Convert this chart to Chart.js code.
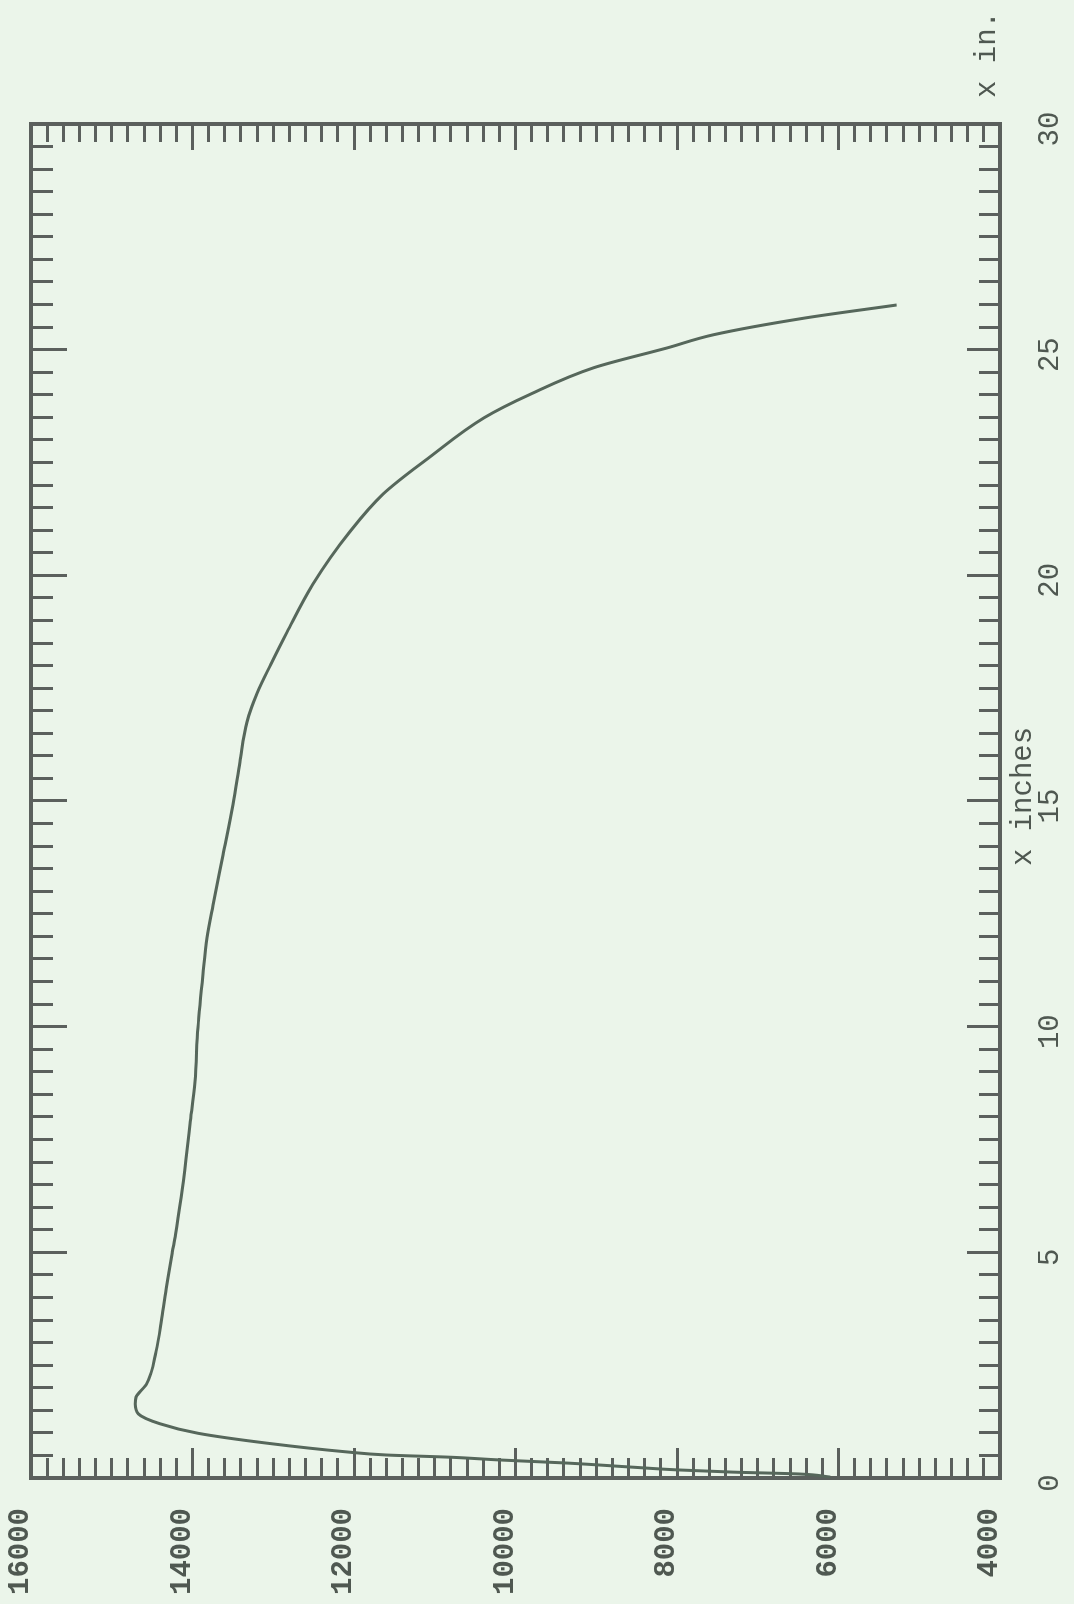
<!DOCTYPE html>
<html>
<head>
<meta charset="utf-8">
<title>x inches</title>
<script src="https://cdn.jsdelivr.net/npm/chart.js@4"></script>
<style>
  html, body { margin: 0; padding: 0; overflow: hidden; background: #ebf5ea; }
  body { width: 1074px; height: 1604px; position: relative; }
  /* the plot was drawn on its side: build it upright, then turn it a quarter turn */
  #wrap {
    position: absolute; left: 0; top: 0;
    width: 1604px; height: 1074px;
    transform-origin: 0 0;
    transform: translate(0, 1604px) rotate(-90deg);
  }
</style>
</head>
<body>
<div id="wrap"><canvas id="chart" width="1604" height="1074"></canvas></div>
<script>
// distance along the piece (inches)
const inches = [0.02, 0.09, 0.13, 0.18, 0.24, 0.33, 0.40, 0.46, 0.51, 0.58, 0.77, 0.99,
  1.20, 1.42, 1.64, 1.79, 2.08, 2.81, 3.54, 4.27, 5.00, 5.39, 6.23, 7.07, 7.84, 8.78,
  9.98, 11.17, 11.97, 12.69, 13.80, 14.92, 15.87, 16.75, 17.39, 18.03, 18.74,
  19.80, 20.97, 21.80, 22.61, 23.49, 24.01, 24.60, 25.04, 25.33, 25.70, 25.99];

// plotted reading at each distance
const values = [6100, 6500, 7300, 8000, 8550, 9350, 10200, 10800, 11600, 12100, 13070, 13930,
  14400, 14670, 14710, 14700, 14570, 14450, 14380, 14320, 14250, 14210, 14140, 14080, 14030, 13970,
  13932, 13870, 13820, 13746, 13622, 13498, 13412, 13325, 13200, 13030, 12830,
  12510, 12050, 11640, 11070, 10390, 9820, 9030, 8120, 7550, 6420, 5280];

// labelled ticks
const inchLabels = [0, 5, 10, 15, 20, 25, 30];
const valueLabels = [4000, 6000, 8000, 10000, 12000, 14000, 16000];

const inkColor = '#5b605d';
const textColor = '#4f5851';

// tick marks point inward on every side: draw them as dashed grid lines
// that only show a short piece at each end of the plot box
function inchTickDash(ctx) {
  if (!ctx.tick) return [];
  const area = ctx.chart.chartArea;
  const major = inchLabels.includes(ctx.tick.value);
  const nearEnd = major ? 36 : 22;
  const farEnd = major ? 31 : 19;
  const len = area.bottom - area.top - 2;
  return [nearEnd, len - nearEnd - farEnd, farEnd, 3000];
}

function valueTickDash(ctx) {
  if (!ctx.tick) return [];
  const area = ctx.chart.chartArea;
  const major = valueLabels.includes(ctx.tick.value);
  const nearEnd = major ? 28 : 18;
  const farEnd = major ? 26 : 18;
  const len = area.right - area.left - 2;
  return [nearEnd, len - nearEnd - farEnd, farEnd, 3000];
}

// axis captions written by the plotter
const captions = {
  id: 'captions',
  afterDraw(chart) {
    const ctx = chart.ctx;
    const x = chart.scales.x;
    ctx.save();
    ctx.fillStyle = textColor;
    ctx.font = '29px "Liberation Mono"';
    ctx.textBaseline = 'middle';
    ctx.textAlign = 'center';
    ctx.fillText('x inches', x.getPixelForValue(15.1), x.top + 23);
    ctx.textAlign = 'left';
    ctx.fillText('x in.', chart.chartArea.right + 26, x.top - 13);
    ctx.restore();
  }
};

new Chart(document.getElementById('chart'), {
  type: 'line',
  data: {
    datasets: [{
      data: inches.map((v, i) => ({ x: v, y: values[i] })),
      borderColor: '#56675b',
      borderWidth: 3,
      pointRadius: 0,
      cubicInterpolationMode: 'monotone',
      fill: false
    }]
  },
  options: {
    responsive: false,
    animation: false,
    events: [],
    layout: { padding: { top: 31, right: 124, bottom: 0, left: 0 } },
    plugins: { legend: { display: false }, tooltip: { enabled: false } },
    scales: {
      x: {
        type: 'linear',
        position: 'bottom',
        min: 0,
        max: 30,
        afterFit: (scale) => { scale.height = 74; },
        border: { display: true, color: inkColor, width: 4, dash: inchTickDash },
        grid: { color: inkColor, lineWidth: 3, drawTicks: false },
        ticks: {
          stepSize: 0.5,
          maxTicksLimit: 100,
          autoSkip: false,
          maxRotation: 0,
          padding: 33,
          labelOffset: -5,
          color: textColor,
          font: { family: 'Liberation Mono', size: 29 },
          callback: (v) => inchLabels.includes(v) ? String(v) : ''
        }
      },
      xTop: {
        type: 'linear',
        position: 'top',
        min: 0,
        max: 30,
        border: { display: true, color: inkColor, width: 4 },
        grid: { display: false, drawTicks: false },
        ticks: { display: false }
      },
      y: {
        type: 'linear',
        position: 'left',
        min: 4000,
        max: 16000,
        afterFit: (scale) => {
          scale.width = 126;
          // let the end labels hang past the box instead of shrinking it
          scale.paddingTop = 0;
          scale.paddingBottom = 0;
        },
        border: { display: true, color: inkColor, width: 4, dash: valueTickDash },
        grid: { color: inkColor, lineWidth: 3, drawTicks: false },
        ticks: {
          stepSize: 200,
          maxTicksLimit: 100,
          autoSkip: false,
          padding: 30,
          labelOffset: -10,
          color: textColor,
          font: { family: 'Liberation Mono', size: 29, weight: 'bold' },
          callback: (v) => valueLabels.includes(v) ? String(v) : ''
        }
      },
      yRight: {
        type: 'linear',
        position: 'right',
        min: 4000,
        max: 16000,
        border: { display: true, color: inkColor, width: 4 },
        grid: { display: false, drawTicks: false },
        ticks: { display: false }
      }
    }
  },
  plugins: [captions]
});
</script>
</body>
</html>
